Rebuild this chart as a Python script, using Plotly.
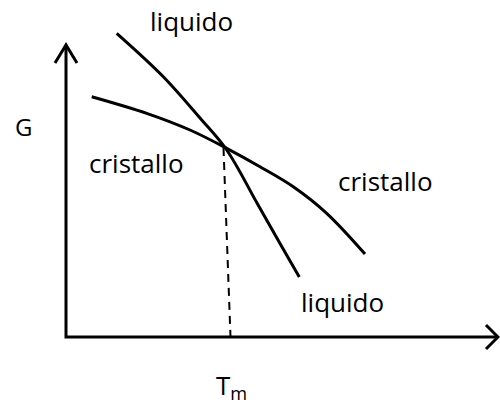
import plotly.graph_objects as go

# Schematic data (T: temperature units, G: free-energy units; origin at axes corner)
liquid_T = [50.7, 97.3, 134, 160.7, 191, 214, 233.3]
liquid_G = [303.7, 260.3, 219, 187, 134, 93.5, 60]
crystal_T = [25.7, 80.7, 124, 160.7, 194, 227.3, 260.7, 299]
crystal_G = [240.3, 223.7, 207, 188.7, 170.3, 150.3, 123.7, 83]

Tm_top = (157.5, 189)
Tm_bottom = (164.5, 0)

x_axis_end = 432
y_axis_end = 292

labels = [
    ("G", -43, 211, 24),
    ("cristallo", 70, 174, 26),
    ("cristallo", 319, 156, 26),
    ("liquido", 125, 316, 26),
    ("liquido", 276, 35, 26),
    ("T<sub>m</sub>", 165, -49, 26),
]

FONT = "Open Sans, DejaVu Sans, sans-serif"
black = "black"

fig = go.Figure()

# axes
fig.add_trace(go.Scatter(x=[0, 0, x_axis_end], y=[y_axis_end, 0, 0], mode="lines",
                         line=dict(color=black, width=3), hoverinfo="skip"))
# arrowheads
fig.add_trace(go.Scatter(x=[-11, 0, 11], y=[y_axis_end - 18, y_axis_end, y_axis_end - 18],
                         mode="lines", line=dict(color=black, width=3), hoverinfo="skip"))
fig.add_trace(go.Scatter(x=[x_axis_end - 12, x_axis_end, x_axis_end - 12], y=[12, 0, -12],
                         mode="lines", line=dict(color=black, width=3), hoverinfo="skip"))

# dashed Tm line
fig.add_trace(go.Scatter(x=[Tm_top[0], Tm_bottom[0]], y=[Tm_top[1], Tm_bottom[1]], mode="lines",
                         line=dict(color=black, width=2, dash="8px,6px"), hoverinfo="skip"))

# curves
fig.add_trace(go.Scatter(x=liquid_T, y=liquid_G, mode="lines",
                         line=dict(color=black, width=3, shape="spline", smoothing=1),
                         hoverinfo="skip"))
fig.add_trace(go.Scatter(x=crystal_T, y=crystal_G, mode="lines",
                         line=dict(color=black, width=3, shape="spline", smoothing=1),
                         hoverinfo="skip"))

for text, x, y, size in labels:
    fig.add_annotation(x=x, y=y, text=text, showarrow=False,
                       font=dict(family=FONT, size=size, color=black),
                       xanchor="center", yanchor="middle")

fig.update_layout(
    width=500, height=411,
    margin=dict(l=0, r=0, t=0, b=0),
    plot_bgcolor="white", paper_bgcolor="white",
    showlegend=False,
    xaxis=dict(range=[-66, 434], visible=False, fixedrange=True),
    yaxis=dict(range=[-74, 337], visible=False, fixedrange=True),
)

fig.write_html("out.html", config={"displayModeBar": False},
               post_script="document.body.style.margin='0';document.body.style.overflow='hidden';")
